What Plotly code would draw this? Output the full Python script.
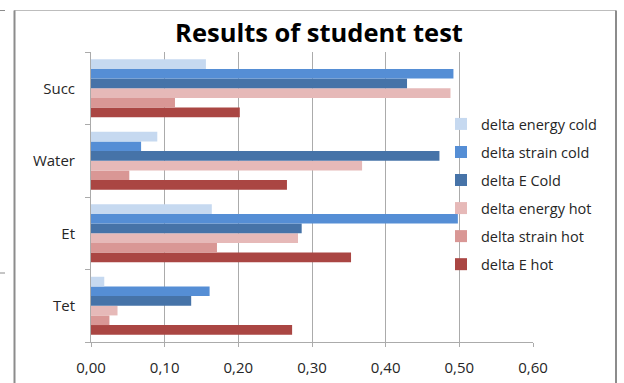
import plotly.graph_objects as go

categories = ["Tet", "Et", "Water", "Succ"]
series_names = ["delta energy cold", "delta strain cold", "delta E Cold",
                "delta energy hot", "delta strain hot", "delta E hot"]
delta_energy_cold = [0.018, 0.164, 0.090, 0.156]
delta_strain_cold = [0.161, 0.498, 0.068, 0.492]
delta_E_cold = [0.136, 0.286, 0.473, 0.429]
delta_energy_hot = [0.036, 0.281, 0.368, 0.488]
delta_strain_hot = [0.025, 0.171, 0.052, 0.114]
delta_E_hot = [0.273, 0.353, 0.266, 0.202]
x_ticks = [0.0, 0.1, 0.2, 0.3, 0.4, 0.5, 0.6]

values = [delta_energy_cold, delta_strain_cold, delta_E_cold,
          delta_energy_hot, delta_strain_hot, delta_E_hot]
colors = ["#C6D9F0", "#558ED5", "#4673A8", "#E6B9B8", "#D99795", "#AA4643"]

FONT = "Open Sans, sans-serif"

fig = go.Figure()
# add in reverse so first series appears at top of each group
for i in reversed(range(len(series_names))):
    fig.add_trace(go.Bar(
        y=categories, x=values[i], name=series_names[i], orientation="h",
        marker=dict(color=colors[i], line=dict(width=0)),
        legendgroup=series_names[i], legendrank=i + 1,
    ))

# plot area in pixels: left 91, right 533, top 52, bottom 342
L, R, T, B = 91, 533, 52, 342
W, H = R - L, B - T
def px(x):
    return (x - L) / W
def py(y):
    return (B - y) / H

shapes = [
    dict(type="line", xref="paper", yref="paper", x0=px(14), x1=px(616), y0=py(10.5), y1=py(10.5),
         line=dict(color="#BDBDBD", width=1)),
    dict(type="line", xref="paper", yref="paper", x0=px(14.5), x1=px(14.5), y0=py(10.5), y1=py(400),
         line=dict(color="#8C8C8C", width=2)),
    dict(type="line", xref="paper", yref="paper", x0=px(616), x1=px(616), y0=py(10.5), y1=py(400),
         line=dict(color="#8C8C8C", width=2)),
    dict(type="line", xref="paper", yref="paper", x0=px(0), x1=px(5), y0=py(10.5), y1=py(10.5),
         line=dict(color="#8C8C8C", width=1)),
    dict(type="line", xref="paper", yref="paper", x0=px(0), x1=px(5), y0=py(273), y1=py(273),
         line=dict(color="#8C8C8C", width=1)),
]

fig.update_layout(
    width=624, height=383,
    margin=dict(l=L, r=624 - R, t=T, b=383 - B, pad=0, autoexpand=False),
    paper_bgcolor="white", plot_bgcolor="white",
    separators=", ",
    barmode="group", bargap=0.2, bargroupgap=0,
    font=dict(family=FONT, size=15, color="#262626"),
    title=dict(text="<b>Results of student test</b>", x=319 / 624, xanchor="center",
               y=1 - 33 / 383, yanchor="middle", automargin=False,
               font=dict(family=FONT, size=25.5, color="#000000")),
    legend=dict(traceorder="grouped", tracegroupgap=6.2,
                x=px(441), xanchor="left", y=py(108), yanchor="top",
                bgcolor="rgba(0,0,0,0)", font=dict(family=FONT, size=14.5, color="#262626")),
    shapes=shapes,
    xaxis=dict(range=[0, 0.6], tickvals=x_ticks, tickformat=".2f",
               showgrid=True, gridcolor="#ABABAB", gridwidth=1,
               showline=True, linecolor="#ABABAB", linewidth=1,
               ticks="outside", ticklen=4, tickcolor="#ABABAB",
               ticklabelstandoff=8, zeroline=False, fixedrange=True, automargin=False),
    yaxis=dict(type="category", categoryorder="array", categoryarray=categories,
               range=[-0.5, 3.5],
               showline=True, linecolor="#ABABAB", linewidth=1,
               ticks="outside", ticklen=5, tickcolor="#ABABAB", tickson="boundaries",
               ticklabelstandoff=12, showgrid=False, zeroline=False, fixedrange=True,
               automargin=False),
)

fig.write_html("out.html", config={"displayModeBar": False},
               post_script="document.body.style.margin='0';")
